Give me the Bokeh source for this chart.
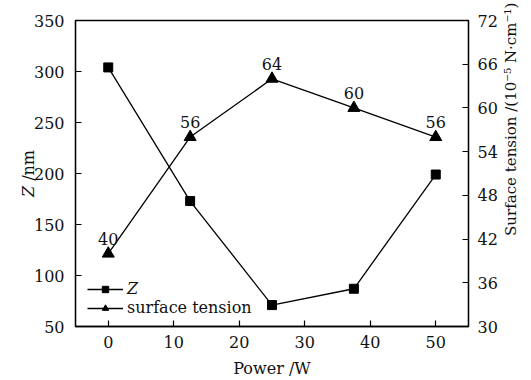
import math
from bokeh.plotting import figure
from bokeh.models import Range1d, LinearAxis, FixedTicker, Legend, LegendItem, ColumnDataSource
from bokeh.embed import file_html
from bokeh.resources import INLINE

power = [0, 12.5, 25, 37.5, 50]
z_nm = [304, 173, 71, 87, 199]
tension = [40, 56, 64, 60, 56]
tension_labels = ["40", "56", "64", "60", "56"]
x_ticks = [0, 10, 20, 30, 40, 50]
z_ticks = [50, 100, 150, 200, 250, 300, 350]
t_ticks = [30, 36, 42, 48, 54, 60, 66, 72]

FONT = "DejaVu Serif"
TC = "#111111"

p = figure(width=531, height=380, output_backend="svg", toolbar_location=None,
           x_range=Range1d(-5, 55), y_range=Range1d(50, 350),
           min_border_left=75, min_border_right=63, min_border_top=20, min_border_bottom=48)
p.extra_y_ranges = {"st": Range1d(30, 72)}
p.grid.visible = False
p.outline_line_color = "black"
p.outline_line_width = 1.3
p.background_fill_color = "white"
p.border_fill_color = "white"

def style_axis(ax):
    ax.axis_line_color = "black"
    ax.axis_line_width = 1.3
    ax.major_tick_in = 6
    ax.major_tick_out = 0
    ax.major_tick_line_color = "black"
    ax.major_tick_line_width = 1.2
    ax.minor_tick_line_color = None
    ax.major_label_text_font = FONT
    ax.major_label_text_font_size = "16px"
    ax.major_label_text_color = TC
    ax.axis_label_text_font = FONT
    ax.axis_label_text_font_size = "16px"
    ax.axis_label_text_font_style = "normal"
    ax.axis_label_text_color = TC
    ax.major_label_standoff = 9

xa = p.xaxis[0]
xa.ticker = FixedTicker(ticks=x_ticks)
xa.axis_label = "Power /W"
style_axis(xa)
xa.axis_label_standoff = 8

ya = p.yaxis[0]
ya.ticker = FixedTicker(ticks=z_ticks)
ya.axis_label = "\U0001D44D /nm"
style_axis(ya)
ya.major_label_standoff = 11
ya.axis_label_standoff = -7

ra = LinearAxis(y_range_name="st", ticker=FixedTicker(ticks=t_ticks),
                axis_label="\u00a0" * 19 + "Surface tension /(10\u207b\u2075 N\u00b7cm\u207b\u00b9)")
style_axis(ra)
ra.axis_label_text_font_size = "15px"
ra.axis_label_standoff = 10
ra.axis_label_orientation = math.pi / 2
for v in ("start", "left", "bottom"):
    try:
        ra.axis_label_align = v
        break
    except Exception:
        pass
p.add_layout(ra, "right")

src_z = ColumnDataSource(dict(x=power, y=z_nm))
src_t = ColumnDataSource(dict(x=power, y=tension, lab=tension_labels))

lz = p.line("x", "y", source=src_z, line_color="black", line_width=1.3)
sz = p.scatter("x", "y", source=src_z, marker="square", size=9, color="black")
lt = p.line("x", "y", source=src_t, line_color="black", line_width=1.3, y_range_name="st")
st = p.scatter("x", "y", source=src_t, marker="triangle", size=12, color="black", y_range_name="st")
p.text("x", "y", text="lab", source=src_t, y_range_name="st", text_align="center",
       text_baseline="bottom", y_offset=-9, text_font={"value": FONT}, text_font_size="16px",
       text_color=TC)

legend = Legend(items=[LegendItem(label="\U0001D44D", renderers=[lz, sz]),
                       LegendItem(label="surface tension", renderers=[lt, st])],
                location=(12, 9), border_line_color=None, background_fill_alpha=0,
                label_text_font=FONT, label_text_font_size="16px", label_text_color=TC,
                glyph_width=36, glyph_height=16, label_height=16, spacing=0, padding=4,
                label_standoff=4, margin=0)
p.add_layout(legend)

open("out.html", "w").write(file_html(p, INLINE))
